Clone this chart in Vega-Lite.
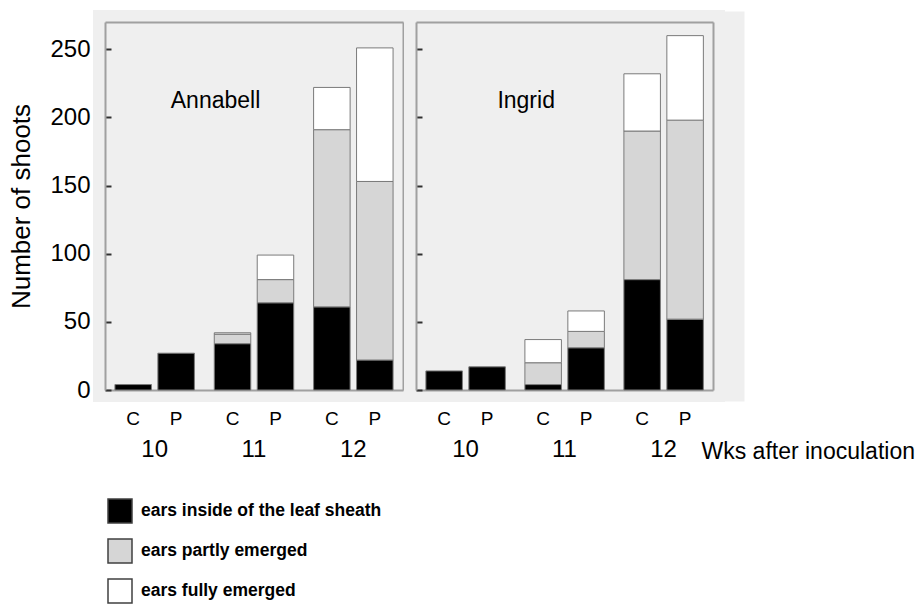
{
  "$schema": "https://vega.github.io/schema/vega-lite/v6.json",
  "background": "white",
  "autosize": {"type": "none"},
  "padding": {"left": 105, "top": 22, "right": 813, "bottom": 216},
  "bounds": "flush",
  "spacing": 13,
  "datasets": {
    "shoots": [
      {"cultivar": "Annabell", "week": "10", "treat": "C", "stage": "ears inside of the leaf sheath", "rank": 1, "n": 4},
      {"cultivar": "Annabell", "week": "10", "treat": "P", "stage": "ears inside of the leaf sheath", "rank": 1, "n": 27},
      {"cultivar": "Annabell", "week": "11", "treat": "C", "stage": "ears inside of the leaf sheath", "rank": 1, "n": 34},
      {"cultivar": "Annabell", "week": "11", "treat": "C", "stage": "ears partly emerged", "rank": 2, "n": 7},
      {"cultivar": "Annabell", "week": "11", "treat": "C", "stage": "ears fully emerged", "rank": 3, "n": 1},
      {"cultivar": "Annabell", "week": "11", "treat": "P", "stage": "ears inside of the leaf sheath", "rank": 1, "n": 64},
      {"cultivar": "Annabell", "week": "11", "treat": "P", "stage": "ears partly emerged", "rank": 2, "n": 17},
      {"cultivar": "Annabell", "week": "11", "treat": "P", "stage": "ears fully emerged", "rank": 3, "n": 18},
      {"cultivar": "Annabell", "week": "12", "treat": "C", "stage": "ears inside of the leaf sheath", "rank": 1, "n": 61},
      {"cultivar": "Annabell", "week": "12", "treat": "C", "stage": "ears partly emerged", "rank": 2, "n": 130},
      {"cultivar": "Annabell", "week": "12", "treat": "C", "stage": "ears fully emerged", "rank": 3, "n": 31},
      {"cultivar": "Annabell", "week": "12", "treat": "P", "stage": "ears inside of the leaf sheath", "rank": 1, "n": 22},
      {"cultivar": "Annabell", "week": "12", "treat": "P", "stage": "ears partly emerged", "rank": 2, "n": 131},
      {"cultivar": "Annabell", "week": "12", "treat": "P", "stage": "ears fully emerged", "rank": 3, "n": 98},
      {"cultivar": "Ingrid", "week": "10", "treat": "C", "stage": "ears inside of the leaf sheath", "rank": 1, "n": 14},
      {"cultivar": "Ingrid", "week": "10", "treat": "P", "stage": "ears inside of the leaf sheath", "rank": 1, "n": 17},
      {"cultivar": "Ingrid", "week": "11", "treat": "C", "stage": "ears inside of the leaf sheath", "rank": 1, "n": 4},
      {"cultivar": "Ingrid", "week": "11", "treat": "C", "stage": "ears partly emerged", "rank": 2, "n": 16},
      {"cultivar": "Ingrid", "week": "11", "treat": "C", "stage": "ears fully emerged", "rank": 3, "n": 17},
      {"cultivar": "Ingrid", "week": "11", "treat": "P", "stage": "ears inside of the leaf sheath", "rank": 1, "n": 31},
      {"cultivar": "Ingrid", "week": "11", "treat": "P", "stage": "ears partly emerged", "rank": 2, "n": 12},
      {"cultivar": "Ingrid", "week": "11", "treat": "P", "stage": "ears fully emerged", "rank": 3, "n": 15},
      {"cultivar": "Ingrid", "week": "12", "treat": "C", "stage": "ears inside of the leaf sheath", "rank": 1, "n": 81},
      {"cultivar": "Ingrid", "week": "12", "treat": "C", "stage": "ears partly emerged", "rank": 2, "n": 109},
      {"cultivar": "Ingrid", "week": "12", "treat": "C", "stage": "ears fully emerged", "rank": 3, "n": 42},
      {"cultivar": "Ingrid", "week": "12", "treat": "P", "stage": "ears inside of the leaf sheath", "rank": 1, "n": 52},
      {"cultivar": "Ingrid", "week": "12", "treat": "P", "stage": "ears partly emerged", "rank": 2, "n": 146},
      {"cultivar": "Ingrid", "week": "12", "treat": "P", "stage": "ears fully emerged", "rank": 3, "n": 62}
    ],
    "cultivars": [{"cultivar": "Annabell"}, {"cultivar": "Ingrid"}]
  },
  "resolve": {"scale": {"color": "shared"}},
  "hconcat": [
    {
      "width": 298,
      "height": 368,
      "layer": [
        {
          "data": {"name": "shoots"},
          "transform": [{"filter": "datum.cultivar === 'Annabell'"}],
          "mark": {"type": "bar", "stroke": "#7a7a7a", "strokeWidth": 1},
          "encoding": {
            "x": {"field": "week", "type": "ordinal", "scale": {"paddingInner": 0.2, "paddingOuter": 0.1},
              "axis": {"orient": "bottom", "title": null, "labelAngle": 0, "ticks": false, "domainColor": "#a0a0a0", "domainWidth": 2, "labelPadding": 47, "labelFontSize": 24}},
            "xOffset": {"field": "treat", "type": "nominal", "scale": {"paddingInner": 0.15}},
            "y": {"field": "n", "type": "quantitative", "scale": {"domain": [0, 270], "nice": false},
              "axis": {"orient": "left", "values": [0, 50, 100, 150, 200, 250], "tickSize": -6, "tickWidth": 2, "tickColor": "#303030", "labelPadding": 21, "labelFontSize": 24, "domainColor": "#a0a0a0", "domainWidth": 2, "title": "Number of shoots", "titleFontSize": 26, "titleFontWeight": "normal", "titlePadding": 15}},
            "color": {"field": "stage", "type": "nominal",
              "scale": {"domain": ["ears inside of the leaf sheath", "ears partly emerged", "ears fully emerged"], "range": ["#000000", "#d6d6d6", "#ffffff"]},
              "legend": {"orient": "none", "legendX": 2, "legendY": 476, "title": null, "symbolType": "square", "symbolSize": 576, "symbolStrokeColor": "#404040", "symbolStrokeWidth": 1.5, "symbolOpacity": 1, "labelFontWeight": "bold", "labelFontSize": 17.5, "labelColor": "black", "labelLimit": 400, "rowPadding": 10, "labelOffset": 8}},
            "order": {"field": "rank", "type": "quantitative"}
          }
        },
        {
          "data": {"name": "shoots"},
          "transform": [{"filter": "datum.cultivar === 'Annabell' && datum.rank === 1"}],
          "mark": {"type": "text", "fontSize": 19, "baseline": "middle", "dy": 29},
          "encoding": {
            "x": {"field": "week", "type": "ordinal", "axis": {"orient": "top", "labels": false, "ticks": false, "title": null, "domainColor": "#a0a0a0", "domainWidth": 2}},
            "xOffset": {"field": "treat", "type": "nominal"},
            "y": {"datum": 0, "type": "quantitative", "axis": {"orient": "right", "labels": false, "ticks": false, "title": null, "domainColor": "#a0a0a0", "domainWidth": 2}},
            "text": {"field": "treat"}
          }
        },
        {
          "data": {"name": "cultivars"},
          "transform": [{"filter": "datum.cultivar === 'Annabell'"}],
          "mark": {"type": "text", "fontSize": 23, "baseline": "middle", "dx": -17},
          "encoding": {
            "x": {"datum": "11", "type": "ordinal", "axis": null},
            "xOffset": {"datum": "C", "type": "nominal"},
            "y": {"datum": 212, "type": "quantitative", "axis": null},
            "text": {"field": "cultivar"}
          }
        }
      ],
      "resolve": {"axis": {"x": "independent", "y": "independent"}}
    },
    {
      "width": 297,
      "height": 368,
      "layer": [
        {
          "data": {"name": "shoots"},
          "transform": [{"filter": "datum.cultivar === 'Ingrid'"}],
          "mark": {"type": "bar", "stroke": "#7a7a7a", "strokeWidth": 1},
          "encoding": {
            "x": {"field": "week", "type": "ordinal", "scale": {"paddingInner": 0.2, "paddingOuter": 0.1},
              "axis": {"orient": "bottom", "title": "Wks after inoculation", "titleX": 285, "titleY": 61, "titleAlign": "left", "titleBaseline": "middle", "titleFontSize": 23, "titleFontWeight": "normal", "labelAngle": 0, "ticks": false, "domainColor": "#a0a0a0", "domainWidth": 2, "labelPadding": 47, "labelFontSize": 24}},
            "xOffset": {"field": "treat", "type": "nominal", "scale": {"paddingInner": 0.15}},
            "y": {"field": "n", "type": "quantitative", "scale": {"domain": [0, 270], "nice": false},
              "axis": {"orient": "left", "values": [0, 50, 100, 150, 200, 250], "labels": false, "tickSize": -6, "tickWidth": 2, "tickColor": "#303030", "domainColor": "#a0a0a0", "domainWidth": 2, "title": null}},
            "color": {"field": "stage", "type": "nominal", "legend": null},
            "order": {"field": "rank", "type": "quantitative"}
          }
        },
        {
          "data": {"name": "shoots"},
          "transform": [{"filter": "datum.cultivar === 'Ingrid' && datum.rank === 1"}],
          "mark": {"type": "text", "fontSize": 19, "baseline": "middle", "dy": 29},
          "encoding": {
            "x": {"field": "week", "type": "ordinal", "axis": {"orient": "top", "labels": false, "ticks": false, "title": null, "domainColor": "#a0a0a0", "domainWidth": 2}},
            "xOffset": {"field": "treat", "type": "nominal"},
            "y": {"datum": 0, "type": "quantitative", "axis": {"orient": "right", "labels": false, "ticks": false, "title": null, "domainColor": "#a0a0a0", "domainWidth": 2}},
            "text": {"field": "treat"}
          }
        },
        {
          "data": {"name": "cultivars"},
          "transform": [{"filter": "datum.cultivar === 'Ingrid'"}],
          "mark": {"type": "text", "fontSize": 23, "baseline": "middle", "dx": -17},
          "encoding": {
            "x": {"datum": "11", "type": "ordinal", "axis": null},
            "xOffset": {"datum": "C", "type": "nominal"},
            "y": {"datum": 212, "type": "quantitative", "axis": {"orient": "right", "offset": 20, "labels": false, "ticks": false, "grid": false, "title": null, "domainColor": "#efefef", "domainWidth": 22, "domainCap": "square"}},
            "text": {"field": "cultivar"}
          }
        }
      ],
      "resolve": {"axis": {"x": "independent", "y": "independent"}}
    }
  ],
  "config": {
    "view": {"fill": "#efefef", "stroke": "#efefef", "strokeWidth": 24},
    "font": "Liberation Sans, Arial, sans-serif",
    "axis": {"labelFont": "Liberation Sans, Arial, sans-serif", "titleFont": "Liberation Sans, Arial, sans-serif", "labelColor": "black", "titleColor": "black", "grid": false},
    "legend": {"labelFont": "Liberation Sans, Arial, sans-serif"},
    "text": {"font": "Liberation Sans, Arial, sans-serif", "color": "black"}
  }
}
